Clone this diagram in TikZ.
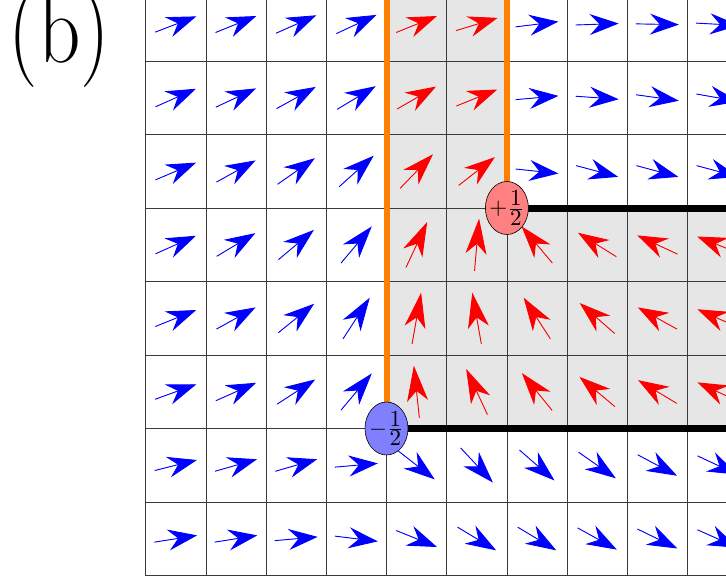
\documentclass[tikz,border=0pt]{standalone}
\usetikzlibrary{arrows.meta, shapes.geometric}
\definecolor{cGrid}{HTML}{3A3A3A}
\definecolor{cShade}{HTML}{E6E6E6}
\definecolor{cString}{HTML}{FF8000}
\definecolor{cPlus}{HTML}{FF8080}
\definecolor{cMinus}{HTML}{8080FF}

\begin{document}
\begin{tikzpicture}[x=1pt, y=-1pt,
    gridline/.style={draw=cGrid, line width=0.8pt},
    string/.style={draw=cString, line width=6pt},
    wall/.style={draw=black, line width=7pt},
    defect/.style={
        ellipse, draw=black, line width=0.6pt, fill=#1,
        inner sep=-6pt, minimum width=43pt, minimum height=53pt
    },
    spin/.style={draw=#1, fill=#1, line width=0.9pt,
        -{Stealth[length=\hh pt, width=21pt, inset=10pt]}},
]
\useasboundingbox (0,0) rectangle (726,576);
\clip (0,0) rectangle (726,576);

% Panel label
\node[anchor=base west, inner sep=0pt, font=\fontsize{83}{83}\selectfont]
    (panel) at (8.5,62) {\scalebox{1}[1.2]{(b)}};

% Defect positions and frame edges
\coordinate (vp)  at (506.9,208);
\coordinate (vm)  at (386.5,428.5);
\coordinate (top) at (0,-5);
\coordinate (rim) at (732,0);

% Shaded domain
\fill[cShade] (vm |- top) -- (vp |- top) -- (vp) -- (vp -| rim)
    -- (vm -| rim) -- (vm) -- cycle;

% Lattice
\foreach \i in {0,...,9}
    \draw[gridline] ({145.7+60.2*\i},0) -- ({145.7+60.2*\i},576);
\foreach \j in {1,...,8}
    \draw[gridline] (145.7,{-12.5+73.5*\j}) -- (726,{-12.5+73.5*\j});

% Spins, one per cell (screen angles)
\foreach \row/\angles in {
    0/{21,22,24,25,22,17,7,2,-1,-3},
    1/{24,25,29,31,30,22,5,-4,-8,-10},
    2/{23,29,35,42,46,38,-6,-15,-15,-15},
    3/{24,31,40,50,65,85,130,148,155,158},
    4/{22,29,39,57,80,100,123,139,151,156},
    5/{20,24,33,50,96,115,129,140,149,155},
    6/{14,16,16,5,-38,-47,-41,-35,-28,-25},
    7/{9,9,5,-7,-22,-31,-31,-29,-26,-24}} {
  \foreach \a [count=\col from 0] in \angles {
    \pgfmathsetmacro\cx{145.7+60.2*(\col+0.5)}
    \pgfmathsetmacro\cy{-12.5+73.5*(\row+0.5)}
    \pgfmathsetmacro\hl{21.5/sqrt(cos(\a)^2+(sin(\a)/1.22)^2)}
    \pgfmathsetmacro\hh{1.35*\hl}
    \pgfmathtruncatemacro\isred{and(\row<6, or(and(\col>3,\col<6), and(\row>2,\col>5)))}
    \ifnum\isred=1 \def\clr{red}\else\def\clr{blue}\fi
    \coordinate (s-\row-\col) at (\cx,\cy);
    \draw[spin=\clr] ([shift={(\a+180:\hl pt)}]s-\row-\col)
        -- ([shift={(\a:\hl pt)}]s-\row-\col);
  }
}

% Strings and walls
\draw[string] (vm |- top) -- (vm);
\draw[string] (vp |- top) -- (vp);
\draw[wall] (vp) -- (vp -| rim);
\draw[wall] (vm) -- (vm -| rim);

% Half vortices
\node[defect=cPlus]  (plus)  at (vp)
    {\scalebox{2.3}{$+\frac{\textstyle 1}{\textstyle 2}$}};
\node[defect=cMinus] (minus) at (vm)
    {\scalebox{2.3}{$-\frac{\textstyle 1}{\textstyle 2}$}};

\end{tikzpicture}
\end{document}
